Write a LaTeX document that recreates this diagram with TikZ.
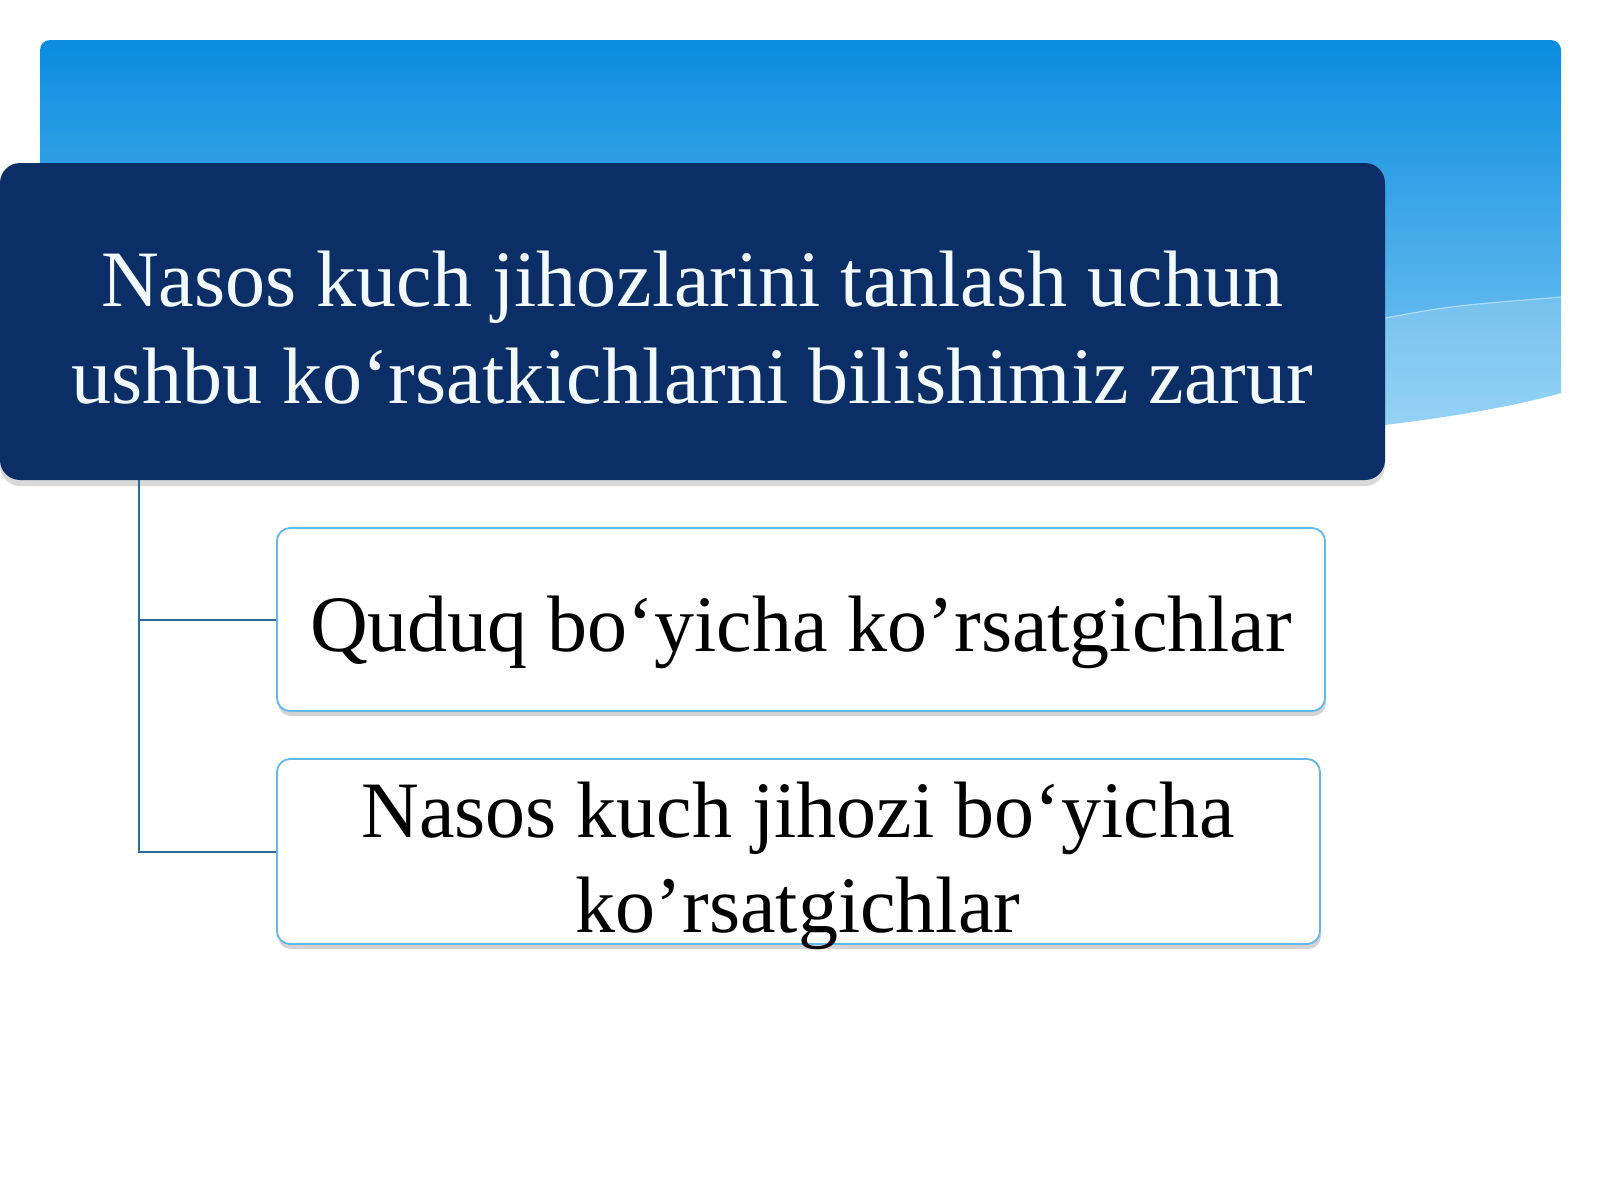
\documentclass[tikz,border=0pt]{standalone}
\usepackage{fontspec}
\setmainfont{Liberation Serif}
\usetikzlibrary{shadows}

\definecolor{bandtop}{RGB}{10,140,223}
\definecolor{bandmid}{RGB}{45,163,232}
\definecolor{bandbot}{RGB}{140,208,245}
\definecolor{navy}{RGB}{11,46,102}
\definecolor{rim}{RGB}{98,184,236}
\definecolor{stem}{RGB}{38,108,150}
\definecolor{paleink}{RGB}{242,250,255}

\tikzset{
  headbox/.style={fill=navy, rounded corners=10pt, minimum width=692.5pt, minimum height=158.5pt,
    inner sep=0pt, drop shadow={shadow xshift=0pt, shadow yshift=-3pt, opacity=0.3}},
  itembox/.style={fill=white, draw=rim, line width=0.9pt, rounded corners=6.5pt, inner sep=0pt,
    drop shadow={shadow xshift=0.5pt, shadow yshift=-2.5pt, opacity=0.35}},
  headtext/.style={anchor=base, text=paleink, font=\fontsize{40}{48}\selectfont, inner sep=0pt},
  itemtext/.style={anchor=base, text=black, font=\fontsize{40}{48}\selectfont, inner sep=0pt},
}

\begin{document}
\begin{tikzpicture}[x=0.5pt, y=-0.5pt]
  \useasboundingbox (0,0) rectangle (1600,1200);

  % blue band behind the heading
  \shade[top color=bandtop, middle color=bandmid, bottom color=bandbot]
    (40,470) [rounded corners=5pt] -- (40,40) -- (1561,40) [sharp corners] -- (1561,393)
    .. controls (1380,445) and (900,470) .. (40,470) -- cycle;
  \fill[white, opacity=0.18] (1385,318) .. controls (1450,306) .. (1561,297) -- (1561,393)
    .. controls (1480,416) .. (1385,439) -- cycle;
  \draw[white, opacity=0.45, line width=0.6pt] (1385,318) .. controls (1450,306) .. (1561,297);

  \node[headbox] (a) at (692.5,321.5) {};
  \node[itembox, minimum width=524pt, minimum height=91.5pt] (b) at (801,619.5) {};
  \node[itembox, minimum width=521.5pt, minimum height=92.5pt] (c) at (798.5,851.5) {};

  \node[headtext] (a1) at (692,306) {Nasos kuch jihozlarini tanlash uchun};
  \node[headtext] (a2) at (692,403) {ushbu ko‘rsatkichlarni bilishimiz zarur};
  \node[itemtext] (b1) at (801,651) {Quduq bo‘yicha ko’rsatgichlar};
  \node[itemtext] (c1) at (798,837) {Nasos kuch jihozi bo‘yicha};
  \node[itemtext] (c2) at (798,932) {ko’rsatgichlar};

  \coordinate (k) at (139,480);
  \draw[stem, line width=1pt] (k) |- (b.west);
  \draw[stem, line width=1pt] (k) |- (c.west);

\end{tikzpicture}
\end{document}
